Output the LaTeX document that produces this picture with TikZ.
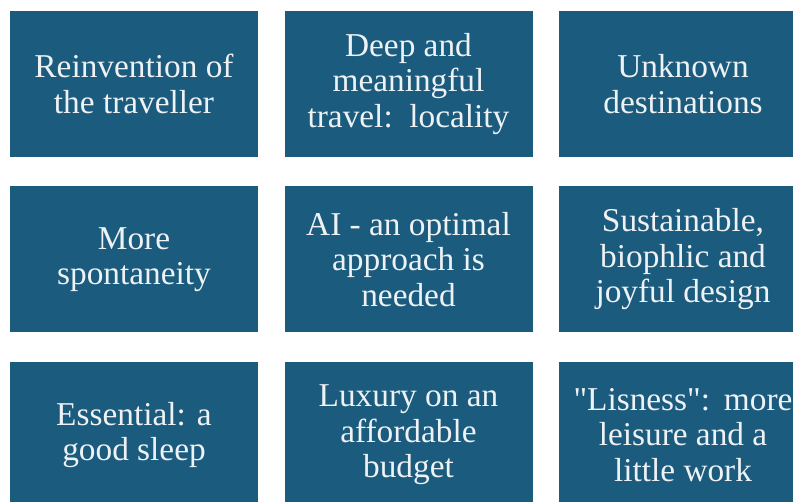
\documentclass[tikz,border=0pt]{standalone}
\usepackage{fontspec}
\setmainfont{Liberation Serif}
\newfontfamily\tilefont{Liberation Serif}
\usepackage{xcolor}
\definecolor{tile-bg}{HTML}{1B5B7D}
\definecolor{tile-fg}{HTML}{EEF2F5}

\begin{document}
\begin{tikzpicture}[x=0.75pt, y=-0.75pt,
          every node/.style={font=\tilefont\fontsize{25}{26.6}\selectfont},
          tilebox/.style={fill=tile-bg, text=tile-fg, draw=none,
                  minimum width=186pt, minimum height=109.5pt,
                  inner sep=0pt, align=center}]
        % Grid: 3x3 tiles of 248x146 px, columns at x = 10, 285, 559,
        %   rows at y = 11, 187, 362; right column and bottom row run off the page.
        \useasboundingbox (0,0) rectangle (793,502);
        \clip (0,0) rectangle (793,502);
        \foreach \r/\c/\lab in {
            0/0/{Reinvention of\\the traveller},
            0/1/{Deep and\\meaningful\\travel:~~locality},
            0/2/{Unknown\\destinations},
            1/0/{More\\spontaneity},
            1/1/{AI - an optimal\\approach is\\needed},
            1/2/{Sustainable,\\biophlic and\\joyful design},
            2/0/{Essential: a\\good sleep},
            2/1/{Luxury on an\\affordable\\budget},
            2/2/{\textquotedbl Lisness\textquotedbl:~\,more\\leisure and a\\little work}} {
          \pgfmathsetmacro{\xc}{10+124+\c*274.5}
          \pgfmathsetmacro{\yc}{11+73+\r*175.5}
          \node[tilebox] (tile-\r-\c) at (\xc,\yc) {\lab};
        }
      \end{tikzpicture}
\end{document}
